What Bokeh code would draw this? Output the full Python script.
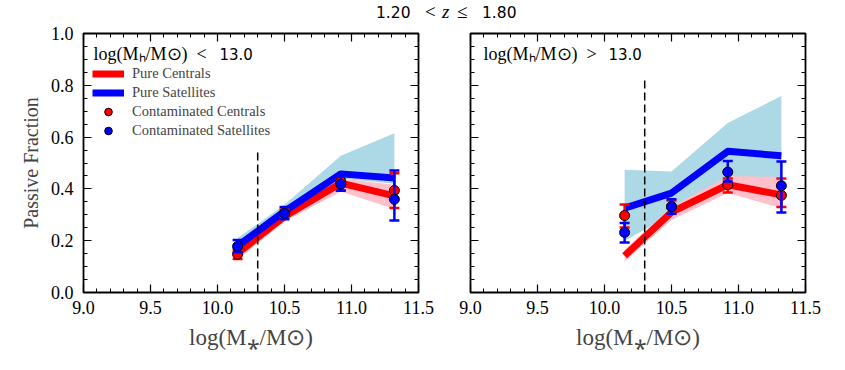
from bokeh.plotting import figure
from bokeh.models import (Range1d, FixedTicker, LinearAxis, Label, Legend, LegendItem,
                          Div, PrintfTickFormatter, CustomJSTickFormatter)
from bokeh.layouts import row, column
from bokeh.embed import file_html
from bokeh.resources import INLINE

# ---------------- data ----------------
mass_bins = [10.15, 10.50, 10.92, 11.32]
mass_cut = 10.3
cut_top_low = 0.545
cut_top_high = 0.82

x_major = [9.0, 9.5, 10.0, 10.5, 11.0, 11.5]
x_minor = [round(9.0 + 0.1 * i, 2) for i in range(26)]
y_major = [0.0, 0.2, 0.4, 0.6, 0.8, 1.0]
y_minor = [round(0.05 * i, 2) for i in range(21)]

# Panel 1: log(Mh/Msun) < 13.0
low_pure_cen = [0.152, 0.293, 0.422, 0.373]
low_pure_sat = [0.180, 0.313, 0.458, 0.442]
low_cen_band_lo = [0.126, 0.274, 0.390, 0.322]
low_cen_band_hi = [0.170, 0.310, 0.440, 0.416]
low_sat_band_lo = [0.170, 0.300, 0.440, 0.420]
low_sat_band_hi = [0.210, 0.339, 0.528, 0.615]
low_cont_cen = [0.148, 0.305, 0.428, 0.394]
low_cont_cen_lo = [0.129, 0.290, 0.395, 0.326]
low_cont_cen_hi = [0.165, 0.320, 0.440, 0.460]
low_cont_sat = [0.178, 0.306, 0.418, 0.360]
low_cont_sat_lo = [0.155, 0.283, 0.393, 0.278]
low_cont_sat_hi = [0.203, 0.330, 0.448, 0.471]

# Panel 2: log(Mh/Msun) > 13.0
high_pure_cen = [0.142, 0.310, 0.416, 0.377]
high_pure_sat = [0.326, 0.384, 0.545, 0.528]
high_cen_band_lo = [0.120, 0.280, 0.384, 0.326]
high_cen_band_hi = [0.165, 0.330, 0.450, 0.446]
high_sat_band_lo = [0.200, 0.300, 0.420, 0.420]
high_sat_band_hi = [0.474, 0.467, 0.654, 0.759]
high_cont_cen = [0.297, 0.330, 0.416, 0.375]
high_cont_cen_lo = [0.251, 0.305, 0.386, 0.330]
high_cont_cen_hi = [0.340, 0.355, 0.440, 0.440]
high_cont_sat = [0.232, 0.332, 0.465, 0.412]
high_cont_sat_lo = [0.193, 0.304, 0.429, 0.309]
high_cont_sat_hi = [0.268, 0.360, 0.508, 0.506]

SERIF = "Liberation Serif"
SANS = "DejaVu Sans"
RED = "#FF0000"
BLUE = "#0000FF"
LIGHTBLUE = "#ADD8E6"
PINK = "#FFC0CB"

blank = CustomJSTickFormatter(code="return ''")


def style_axis(ax, ticks, minor, show_labels):
    ax.ticker = FixedTicker(ticks=ticks, minor_ticks=minor)
    ax.axis_line_color = None
    ax.major_tick_in = 8
    ax.major_tick_out = 0
    ax.minor_tick_in = 4
    ax.minor_tick_out = 0
    ax.major_tick_line_color = "black"
    ax.minor_tick_line_color = "black"
    ax.major_tick_line_width = 1.2
    ax.minor_tick_line_width = 1.0
    if show_labels:
        ax.formatter = PrintfTickFormatter(format="%.1f")
        ax.major_label_text_font = SERIF
        ax.major_label_text_font_size = "18px"
        ax.major_label_text_color = "black"
    else:
        ax.formatter = blank
        ax.major_label_standoff = 0


def make_panel(left_border, show_ylabels, pure_cen, pure_sat, cen_lo, cen_hi, sat_lo, sat_hi,
               c_cen, c_cen_lo, c_cen_hi, c_sat, c_sat_lo, c_sat_hi, cut_top,
               head_text, head_val, head_x, head_val_x, with_legend):
    p = figure(frame_width=335, frame_height=259,
               x_range=Range1d(9.0, 11.5), y_range=Range1d(0.0, 1.0),
               output_backend="svg", toolbar_location=None,
               min_border_left=left_border, min_border_right=20,
               min_border_top=11, min_border_bottom=68)
    p.grid.visible = False
    p.outline_line_color = "black"
    p.outline_line_width = 1.8
    p.background_fill_color = "white"
    p.border_fill_color = "white"

    style_axis(p.xaxis[0], x_major, x_minor, True)
    style_axis(p.yaxis[0], y_major, y_minor, show_ylabels)
    p.xaxis.major_label_standoff = 8
    p.xaxis.axis_label = "log(M\u204e/M\u2299)"
    p.xaxis.axis_label_text_font = SERIF
    p.xaxis.axis_label_text_font_size = "23px"
    p.xaxis.axis_label_text_font_style = "normal"
    p.xaxis.axis_label_standoff = 8
    if show_ylabels:
        p.yaxis.major_label_standoff = 10
        p.yaxis.axis_label = "Passive Fraction"
        p.yaxis.axis_label_text_font = SERIF
        p.yaxis.axis_label_text_font_size = "20px"
        p.yaxis.axis_label_text_font_style = "normal"
        p.yaxis.axis_label_standoff = 6

    top_ax = LinearAxis()
    style_axis(top_ax, x_major, x_minor, False)
    p.add_layout(top_ax, "above")
    right_ax = LinearAxis()
    style_axis(right_ax, y_major, y_minor, False)
    p.add_layout(right_ax, "right")

    # bands
    p.varea(x=mass_bins, y1=sat_lo, y2=sat_hi, fill_color=LIGHTBLUE)
    p.varea(x=mass_bins, y1=cen_lo, y2=cen_hi, fill_color=PINK)
    # pure lines
    r_cen = p.line(mass_bins, pure_cen, line_color=RED, line_width=7, line_join="round")
    r_sat = p.line(mass_bins, pure_sat, line_color=BLUE, line_width=7, line_join="round")
    # mass completeness cut
    p.segment(x0=[mass_cut], y0=[0.0], x1=[mass_cut], y1=[cut_top],
              line_color="black", line_width=1.5, line_dash="8 4")
    # contaminated points with error bars
    pts = []
    for y, lo, hi, col in ((c_cen, c_cen_lo, c_cen_hi, RED), (c_sat, c_sat_lo, c_sat_hi, BLUE)):
        p.segment(x0=mass_bins, y0=lo, x1=mass_bins, y1=hi, line_color=col, line_width=2.5)
        p.scatter(x=mass_bins + mass_bins, y=lo + hi, marker="dash", size=10,
                  line_color=col, line_width=2.5)
        pts.append(p.scatter(x=mass_bins, y=y, marker="circle", size=10,
                             fill_color=col, line_color="black", line_width=1))

    # header text
    p.add_layout(Label(x=head_x, y=239, x_units="screen", y_units="screen", text=head_text,
                       text_font=SERIF, text_font_size="18px", text_baseline="middle",
                       text_color="black"))
    p.add_layout(Label(x=head_val_x, y=239, x_units="screen", y_units="screen", text=head_val,
                       text_font=SANS, text_font_size="15px", text_baseline="middle",
                       text_color="black"))

    if with_legend:
        legend = Legend(items=[
            LegendItem(label="Pure Centrals", renderers=[r_cen]),
            LegendItem(label="Pure Satellites", renderers=[r_sat]),
            LegendItem(label="Contaminated Centrals", renderers=[pts[0]]),
            LegendItem(label="Contaminated Satellites", renderers=[pts[1]]),
        ], location=(9, 152), padding=0, spacing=0, margin=0,
            glyph_width=32, glyph_height=19, label_height=19, label_standoff=8,
            label_text_font=SERIF, label_text_font_size="14.5px",
            border_line_color=None, background_fill_alpha=0)
        p.add_layout(legend, "center")
    return p


p1 = make_panel(83, True, low_pure_cen, low_pure_sat, low_cen_band_lo, low_cen_band_hi,
                low_sat_band_lo, low_sat_band_hi, low_cont_cen, low_cont_cen_lo, low_cont_cen_hi,
                low_cont_sat, low_cont_sat_lo, low_cont_sat_hi, cut_top_low,
                "log(M\u2095/M\u2299)\u2002<", "13.0", 10, 136, True)
p2 = make_panel(32, False, high_pure_cen, high_pure_sat, high_cen_band_lo, high_cen_band_hi,
                high_sat_band_lo, high_sat_band_hi, high_cont_cen, high_cont_cen_lo, high_cont_cen_hi,
                high_cont_sat, high_cont_sat_lo, high_cont_sat_hi, cut_top_high,
                "log(M\u2095/M\u2299)\u2002>", "13.0", 13, 138, False)

span_sans = "position:absolute; top:2px; font-family:'DejaVu Sans'; font-size:15.5px; line-height:22px;"
span_serif = "position:absolute; top:1px; font-family:'Liberation Serif'; font-size:19px; line-height:22px;"
title_html = (
    "<div style=\"position:relative; width:825px; height:22px; white-space:nowrap; color:black;\">"
    f"<span style=\"{span_sans} left:376px;\">1.20</span>"
    f"<span style=\"{span_serif} left:425px;\">&lt;</span>"
    f"<span style=\"{span_serif} left:442px; font-style:italic;\">z</span>"
    f"<span style=\"{span_serif} left:457px;\">\u2264</span>"
    f"<span style=\"{span_sans} left:482px;\">1.80</span></div>"
)
title = Div(text=title_html, width=825, height=22, margin=(0, 0, 0, 0))

layout = column(title, row(p1, p2))
open("out.html", "w").write(file_html(layout, INLINE))
